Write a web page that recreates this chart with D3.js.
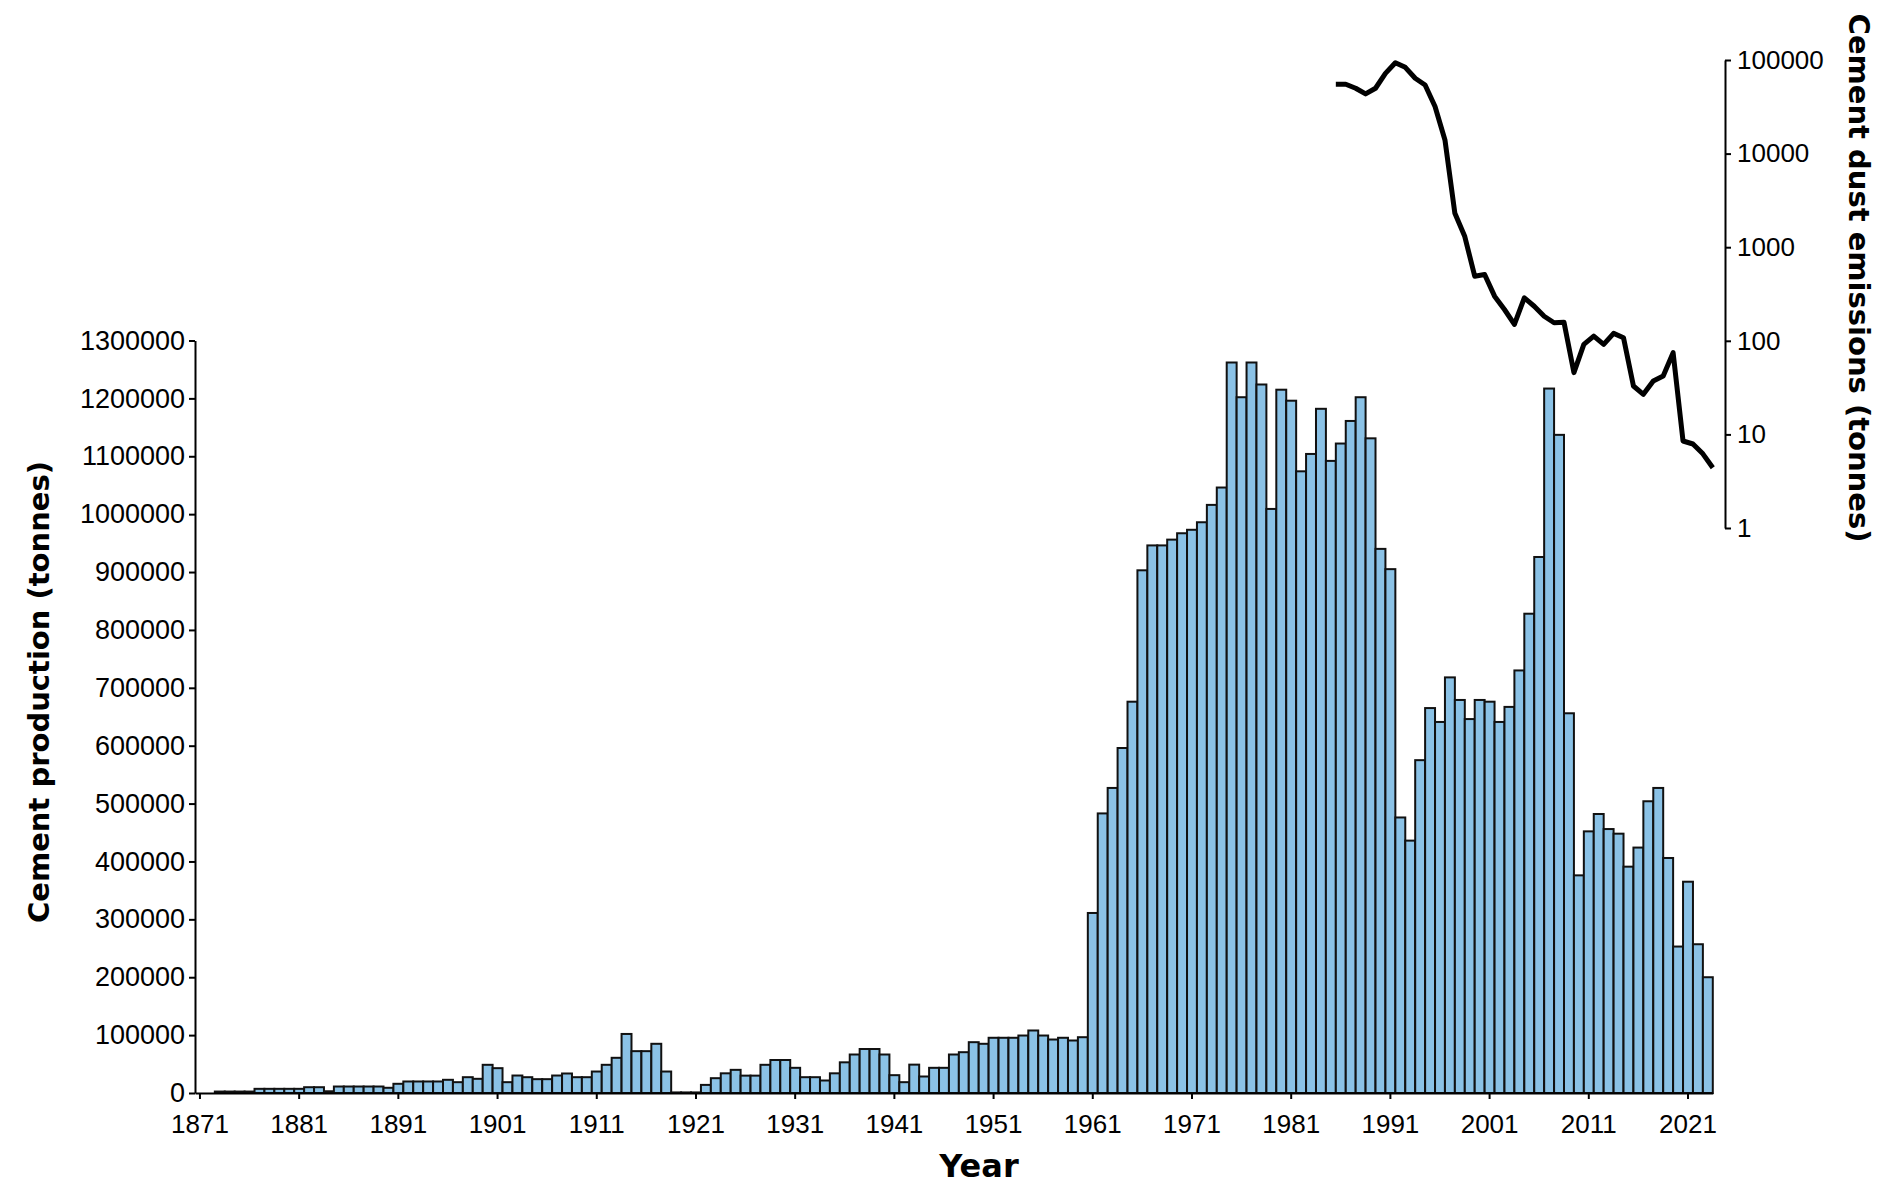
<!DOCTYPE html>
<html>
<head>
<meta charset="utf-8">
<script src="https://cdn.jsdelivr.net/npm/d3@7"></script>
<style>
  html, body { margin: 0; padding: 0; background: #ffffff; }
  svg { display: block; }
</style>
</head>
<body>
<svg id="chart" width="1892" height="1197"></svg>
<script>
// ---------------- DATA ----------------
const years = [
  1871,1872,1873,1874,1875,1876,1877,1878,1879,1880,
  1881,1882,1883,1884,1885,1886,1887,1888,1889,1890,
  1891,1892,1893,1894,1895,1896,1897,1898,1899,1900,
  1901,1902,1903,1904,1905,1906,1907,1908,1909,1910,
  1911,1912,1913,1914,1915,1916,1917,1918,1919,1920,
  1921,1922,1923,1924,1925,1926,1927,1928,1929,1930,
  1931,1932,1933,1934,1935,1936,1937,1938,1939,1940,
  1941,1942,1943,1944,1945,1946,1947,1948,1949,1950,
  1951,1952,1953,1954,1955,1956,1957,1958,1959,1960,
  1961,1962,1963,1964,1965,1966,1967,1968,1969,1970,
  1971,1972,1973,1974,1975,1976,1977,1978,1979,1980,
  1981,1982,1983,1984,1985,1986,1987,1988,1989,1990,
  1991,1992,1993,1994,1995,1996,1997,1998,1999,2000,
  2001,2002,2003,2004,2005,2006,2007,2008,2009,2010,
  2011,2012,2013,2014,2015,2016,2017,2018,2019,2020,
  2021,2022,2023
];

// Cement production (tonnes), one value per year above
const production = [
  null,null,2500,2500,2500,2500,7200,7200,7200,7200,
  7200,10000,10000,3000,11200,11200,11200,11200,11200,9000,
  15900,19900,19900,19900,19900,22800,18700,27300,24500,48700,
  42900,18700,30200,27300,23900,23900,30200,33700,27300,27300,
  37100,48700,60800,102000,72300,72300,85000,37100,1000,1000,
  1000,14000,25600,34000,40000,30000,30000,48700,57000,57000,
  43500,27300,27300,21600,34000,53000,66500,76000,76000,66500,
  30800,18700,49000,28500,43500,43500,66500,70500,87800,85000,
  95400,95400,95400,99300,108000,99300,92400,95400,90700,96400,
  311000,483000,527000,596000,676000,903000,946000,946000,956000,967000,
  973000,986000,1016000,1046000,1262000,1202000,1262000,1224000,1009000,1215000,
  1196000,1074000,1104000,1182000,1092000,1122000,1161000,1202000,1131000,940000,
  905000,476000,436000,575000,665000,641000,718000,679000,646000,679000,
  676000,641000,667000,730000,828000,926000,1217000,1137000,656000,376000,
  452000,482000,456000,448000,391000,424000,504000,527000,406000,253000,
  365000,257000,200000
];

// Cement dust emissions (tonnes)
const emissionYears = [
  1985,1986,1987,1988,1989,1990,1991,1992,1993,1994,
  1995,1996,1997,1998,1999,2000,2001,2002,2003,2004,
  2005,2006,2007,2008,2009,2010,2011,2012,2013,2014,
  2015,2016,2017,2018,2019,2020,2021,2022,2023
];
const emissions = [
  55000,55000,49900,43400,49900,72000,93500,83500,63800,54100,
  31800,14000,2300,1300,490,510,300,216,150,288,
  234,183,156,158,45.7,91.5,112,91.5,120,108,
  32.9,26.8,37.2,42,74.7,8.5,7.9,6.2,4.4
];

const productionTicks = [0,100000,200000,300000,400000,500000,600000,700000,800000,900000,1000000,1100000,1200000,1300000];
const yearTicks = [1871,1881,1891,1901,1911,1921,1931,1941,1951,1961,1971,1981,1991,2001,2011,2021];
const emissionTicks = [1,10,100,1000,10000,100000];

const yTitleLeft = "Cement production (tonnes)";
const yTitleRight = "Cement dust emissions (tonnes)";
const xTitle = "Year";

// ---------------- DRAW ----------------
const svg = d3.select("#chart");
svg.append("rect").attr("width", 1892).attr("height", 1197).attr("fill", "#ffffff");

const tickFont = "'Liberation Sans', Arial, Helvetica, sans-serif";
const titleFont = "'DejaVu Sans', Verdana, sans-serif";

const x = d3.scaleBand().domain(years).range([195, 1712.8]).padding(0);
const y = d3.scaleLinear().domain([0, 1300000]).range([1093, 340.5]);
const y2 = d3.scaleLog().domain([1, 100000]).range([528, 60]);
const bw = x.bandwidth();

const barData = years.map((yr, i) => ({ year: yr, value: production[i] }))
  .filter(d => d.value !== null && d.value > 0);

svg.append("g").selectAll("rect")
  .data(barData)
  .join("rect")
  .attr("x", d => x(d.year))
  .attr("width", bw)
  .attr("y", d => y(d.value))
  .attr("height", d => y(0) - y(d.value))
  .attr("fill", "#8BC2E6")
  .attr("stroke", "#111111")
  .attr("stroke-width", 2);

// Line (log scale)
const lineData = emissionYears.map((yr, i) => ({ year: yr, value: emissions[i] }));
const line = d3.line()
  .x(d => x(d.year) + bw)
  .y(d => y2(d.value));
svg.append("path")
  .datum(lineData)
  .attr("d", line)
  .attr("fill", "none")
  .attr("stroke", "#000000")
  .attr("stroke-width", 5)
  .attr("stroke-linejoin", "round");

function styleAxis(g, size) {
  g.selectAll("path.domain").attr("stroke", "#000").attr("stroke-width", 2);
  g.selectAll(".tick line").attr("stroke", "#000").attr("stroke-width", 2);
  g.selectAll(".tick text")
    .attr("fill", "#000")
    .style("font-family", tickFont)
    .style("font-size", size + "px");
}

// Left axis
svg.append("g")
  .attr("transform", "translate(195,0)")
  .call(d3.axisLeft(y).tickValues(productionTicks).tickFormat(d3.format("d"))
    .tickSize(6).tickSizeOuter(0).tickPadding(4))
  .call(g => styleAxis(g, 27));

// Bottom axis
svg.append("g")
  .attr("transform", `translate(0,${y(0)})`)
  .call(d3.axisBottom(x).tickValues(yearTicks).tickSize(6).tickSizeOuter(0).tickPadding(16))
  .call(g => styleAxis(g, 26));

// Right axis
svg.append("g")
  .attr("transform", "translate(1725,0)")
  .call(d3.axisRight(y2).tickValues(emissionTicks).tickFormat(d3.format("d"))
    .tickSize(6).tickSizeOuter(0).tickPadding(6))
  .call(g => styleAxis(g, 26));

// Titles
svg.append("text")
  .attr("transform", "translate(49,692) rotate(-90)")
  .attr("text-anchor", "middle")
  .style("font-family", titleFont)
  .style("font-weight", "bold")
  .style("font-size", "29px")
  .attr("fill", "#000")
  .text(yTitleLeft);

svg.append("text")
  .attr("transform", "translate(1849,278) rotate(90)")
  .attr("text-anchor", "middle")
  .style("font-family", titleFont)
  .style("font-weight", "bold")
  .style("font-size", "29px")
  .attr("fill", "#000")
  .text(yTitleRight);

svg.append("text")
  .attr("x", 979)
  .attr("y", 1177)
  .attr("text-anchor", "middle")
  .style("font-family", titleFont)
  .style("font-weight", "bold")
  .style("font-size", "32px")
  .attr("fill", "#000")
  .text(xTitle);
</script>
</body>
</html>
